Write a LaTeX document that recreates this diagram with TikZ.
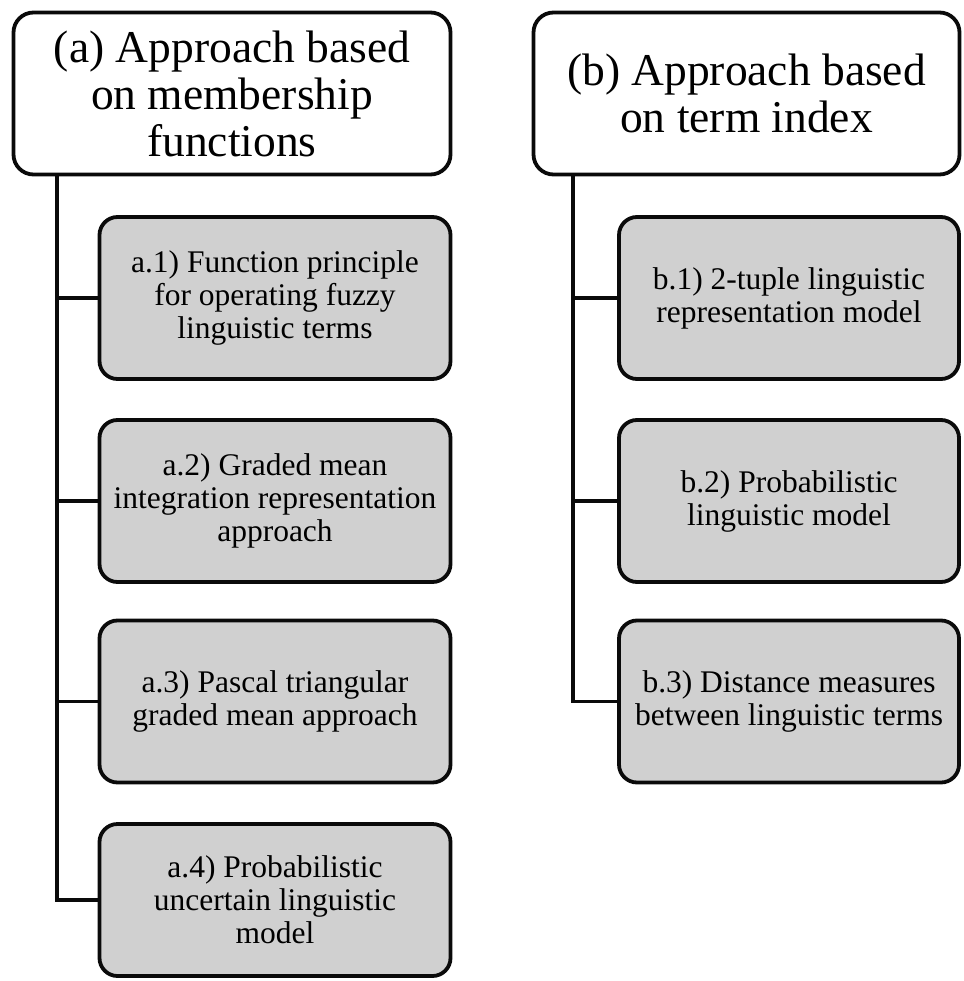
\documentclass[tikz,border=0pt]{standalone}
\usepackage{fontspec}
\setmainfont{Liberation Serif}
\usetikzlibrary{positioning, calc}
\definecolor{boxGray}{HTML}{D0D0D0}
\definecolor{lineDark}{HTML}{0A0A0A}
\tikzset{
  linkT/.style={draw=lineDark, line width=3.4pt},
  headBox/.style={rectangle, rounded corners=20pt, draw=lineDark, fill=white,
                  line width=3.8pt, align=center, inner sep=0pt,
                  font=\fontsize{45.5}{47}\selectfont, minimum height=162pt},
  subBox/.style={rectangle, rounded corners=18pt, draw=lineDark, fill=boxGray,
                 line width=3.8pt, align=center, inner sep=0pt,
                 font=\fontsize{31.5}{33}\selectfont},
}
\begin{document}
\begin{tikzpicture}[x=1pt, y=-1pt]
    \useasboundingbox (0,0) rectangle (963,981);
    % headers
    \node[headBox, minimum width=437pt] (hdrA) at (232,93.5)
      {(a) Approach based\\on membership\\functions};
    \node[headBox, minimum width=426pt] (hdrB) at (746.5,93.5)
      {(b) Approach based\\on term index};
    \coordinate (trunkA) at (57,175);
    \coordinate (trunkB) at (573,175);
    % branch (a)
    \foreach \i/\y/\h/\txt in {
        1/298/162/{a.1) Function principle\\for operating fuzzy\\linguistic terms},
        2/501/162/{a.2) Graded mean\\integration representation\\approach},
        3/701.5/162/{a.3) Pascal triangular\\graded mean approach},
        4/900/152/{a.4) Probabilistic\\uncertain linguistic\\model}} {
      \node[subBox, minimum width=351pt, minimum height=\h pt] (a\i) at (275,\y) {\txt};
      \draw[linkT] (trunkA) |- (a\i.west);
    }
    % branch (b)
    \foreach \i/\y/\txt in {
        1/298/{b.1) 2-tuple linguistic\\representation model},
        2/501/{b.2) Probabilistic\\linguistic model},
        3/701.5/{b.3) Distance measures\\between linguistic terms}} {
      \node[subBox, minimum width=340pt, minimum height=162pt] (b\i) at (789,\y) {\txt};
      \draw[linkT] (trunkB) |- (b\i.west);
    }
  \end{tikzpicture}
\end{document}
